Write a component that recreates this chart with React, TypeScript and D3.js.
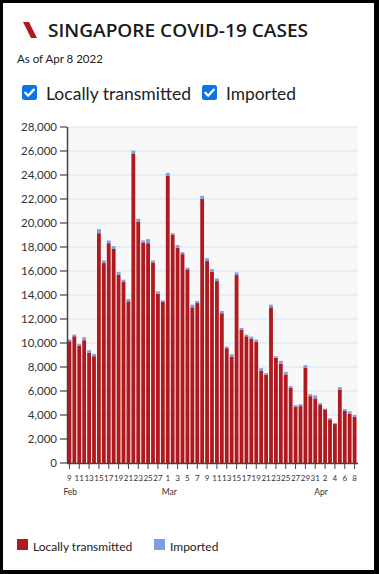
import React from "react";
import * as d3 from "d3";

const dates: string[] = [
  "2022-02-09","2022-02-10","2022-02-11","2022-02-12","2022-02-13","2022-02-14","2022-02-15","2022-02-16","2022-02-17","2022-02-18",
  "2022-02-19","2022-02-20","2022-02-21","2022-02-22","2022-02-23","2022-02-24","2022-02-25","2022-02-26","2022-02-27","2022-02-28",
  "2022-03-01","2022-03-02","2022-03-03","2022-03-04","2022-03-05","2022-03-06","2022-03-07","2022-03-08","2022-03-09","2022-03-10",
  "2022-03-11","2022-03-12","2022-03-13","2022-03-14","2022-03-15","2022-03-16","2022-03-17","2022-03-18","2022-03-19","2022-03-20",
  "2022-03-21","2022-03-22","2022-03-23","2022-03-24","2022-03-25","2022-03-26","2022-03-27","2022-03-28","2022-03-29","2022-03-30",
  "2022-03-31","2022-04-01","2022-04-02","2022-04-03","2022-04-04","2022-04-05","2022-04-06","2022-04-07","2022-04-08"
];

const localCases: number[] = [
  10150, 10560, 9760, 10230, 9200, 8900, 19150, 16660, 18320, 17850,
  15690, 15080, 13470, 25750, 20125, 18380, 18320, 16715, 14110, 13415,
  23925, 19045, 17935, 17405, 16135, 12975, 13330, 22010, 16825, 15940,
  15160, 12475, 9565, 8870, 15660, 11115, 10560, 10340, 10090, 7705,
  7345, 12975, 8760, 8260, 7375, 6265, 4685, 4740, 7955, 5570,
  5380, 4850, 4470, 3630, 3245, 6125, 4350, 4100, 3850
];

const importedCases: number[] = [
  140, 140, 160, 250, 200, 190, 340, 220, 225, 220,
  220, 195, 190, 280, 225, 165, 335, 165, 190, 140,
  245, 105, 220, 170, 140, 220, 170, 250, 250, 220,
  225, 190, 135, 195, 225, 140, 140, 190, 195, 195,
  140, 220, 140, 250, 220, 140, 140, 165, 195, 170,
  250, 140, 60, 110, 80, 195, 140, 200, 140
];

const yTicks: number[] = [0, 2000, 4000, 6000, 8000, 10000, 12000, 14000, 16000, 18000, 20000, 22000, 24000, 26000, 28000];

const seriesNames: string[] = ["Locally transmitted", "Imported"];
const seriesColors: string[] = ["#b01a1f", "#7c9fdf"];
const monthLabels: { date: string; label: string }[] = [
  { date: "2022-02-09", label: "Feb" },
  { date: "2022-03-01", label: "Mar" },
  { date: "2022-04-01", label: "Apr" },
];

const W = 379;
const H = 574;
const plotLeft = 67;
const plotRight = 357;
const plotTop = 127;
const plotBottom = 463;

const Checkbox = ({ x, y }: { x: number; y: number }) => (
  <g transform={`translate(${x},${y})`}>
    <rect x={0} y={0} width={15} height={15} rx={2.5} fill="#0b74e6" />
    <path d="M3.3 7.8 L6.2 10.7 L11.8 4.6" fill="none" stroke="#fff" strokeWidth={2.3} strokeLinecap="round" strokeLinejoin="round" />
  </g>
);

export default function App() {
  const x = d3.scaleBand<string>().domain(dates).range([plotLeft, plotRight]).paddingInner(0.22).paddingOuter(0.1);
  const y = d3.scaleLinear().domain([0, 28000]).range([plotBottom, plotTop]);
  const parse = d3.timeParse("%Y-%m-%d");
  const center = (d: string) => (x(d) as number) + x.bandwidth() / 2;
  const tickDates = dates.filter((_, i) => i % 2 === 0);
  const font = "Lato, 'Open Sans', sans-serif";

  return (
    <svg width={W} height={H} style={{ position: "absolute", left: 0, top: 0, fontFamily: font }}>
      <rect x={0} y={0} width={W} height={H} fill="#000" />
      <rect x={3} y={3} width={371} height={567} fill="#fff" />

      {/* Title */}
      <path d="M23 22 L29 22 L37 38 L31 38 Z" fill="#b01a1f" />
      <text x={48} y={37} fontSize={18.5} fontWeight={600} fill="#1a1a1a" fontFamily="'Open Sans', sans-serif" textLength={260} lengthAdjust="spacingAndGlyphs">SINGAPORE COVID-19 CASES</text>
      <text x={17} y={63} fontSize={11.5} fill="#222">As of Apr 8 2022</text>

      {/* Checkboxes */}
      <Checkbox x={22} y={85} />
      <text x={46} y={100} fontSize={17.5} fill="#222" textLength={145} lengthAdjust="spacingAndGlyphs">{seriesNames[0]}</text>
      <Checkbox x={202} y={85} />
      <text x={226} y={100} fontSize={17.5} fill="#222" textLength={70} lengthAdjust="spacingAndGlyphs">{seriesNames[1]}</text>

      {/* Plot background */}
      <rect x={plotLeft} y={plotTop} width={358 - plotLeft} height={plotBottom - plotTop} fill="#f8f8f8" />
      {yTicks.filter((t) => t > 0).map((t) => (
        <line key={t} x1={plotLeft} x2={358} y1={y(t)} y2={y(t)} stroke="#cfe5f8" strokeWidth={1} />
      ))}

      {/* Bars */}
      {dates.map((d, i) => {
        const bx = x(d) as number;
        const bw = x.bandwidth();
        const l = localCases[i];
        const im = importedCases[i];
        return (
          <g key={d}>
            <rect x={bx} y={y(l)} width={bw} height={y(0) - y(l)} fill={seriesColors[0]} />
            <rect x={bx} y={y(l + im)} width={bw} height={y(l) - y(l + im)} fill={seriesColors[1]} />
          </g>
        );
      })}

      {/* Y axis */}
      <line x1={plotLeft + 0.5} x2={plotLeft + 0.5} y1={plotTop} y2={plotBottom} stroke="#444" strokeWidth={1.5} />
      {yTicks.map((t) => (
        <g key={t}>
          <line x1={60} x2={plotLeft} y1={y(t)} y2={y(t)} stroke="#444" strokeWidth={1.2} />
          <text x={57} y={y(t)} dy="0.35em" textAnchor="end" fontSize={11.5} fill="#333">{d3.format(",")(t)}</text>
        </g>
      ))}

      {/* X axis */}
      <line x1={plotLeft} x2={358} y1={plotBottom + 0.5} y2={plotBottom + 0.5} stroke="#444" strokeWidth={1.5} />
      {tickDates.map((d) => (
        <g key={d}>
          <line x1={center(d)} x2={center(d)} y1={plotBottom} y2={plotBottom + 6} stroke="#444" strokeWidth={1} />
          <text x={center(d)} y={481} textAnchor="middle" fontSize={8} fill="#333">{d3.timeFormat("%-d")(parse(d) as Date)}</text>
        </g>
      ))}
      {monthLabels.map((m) => (
        <text key={m.label} x={center(m.date) - 6} y={495} fontSize={8.5} fill="#333">{m.label}</text>
      ))}

      {/* Legend */}
      <rect x={17} y={539} width={11} height={11} fill={seriesColors[0]} />
      <text x={33} y={551} fontSize={12} fill="#222">{seriesNames[0]}</text>
      <rect x={154} y={539} width={11} height={11} fill={seriesColors[1]} />
      <text x={170} y={551} fontSize={12} fill="#222">{seriesNames[1]}</text>
    </svg>
  );
}
